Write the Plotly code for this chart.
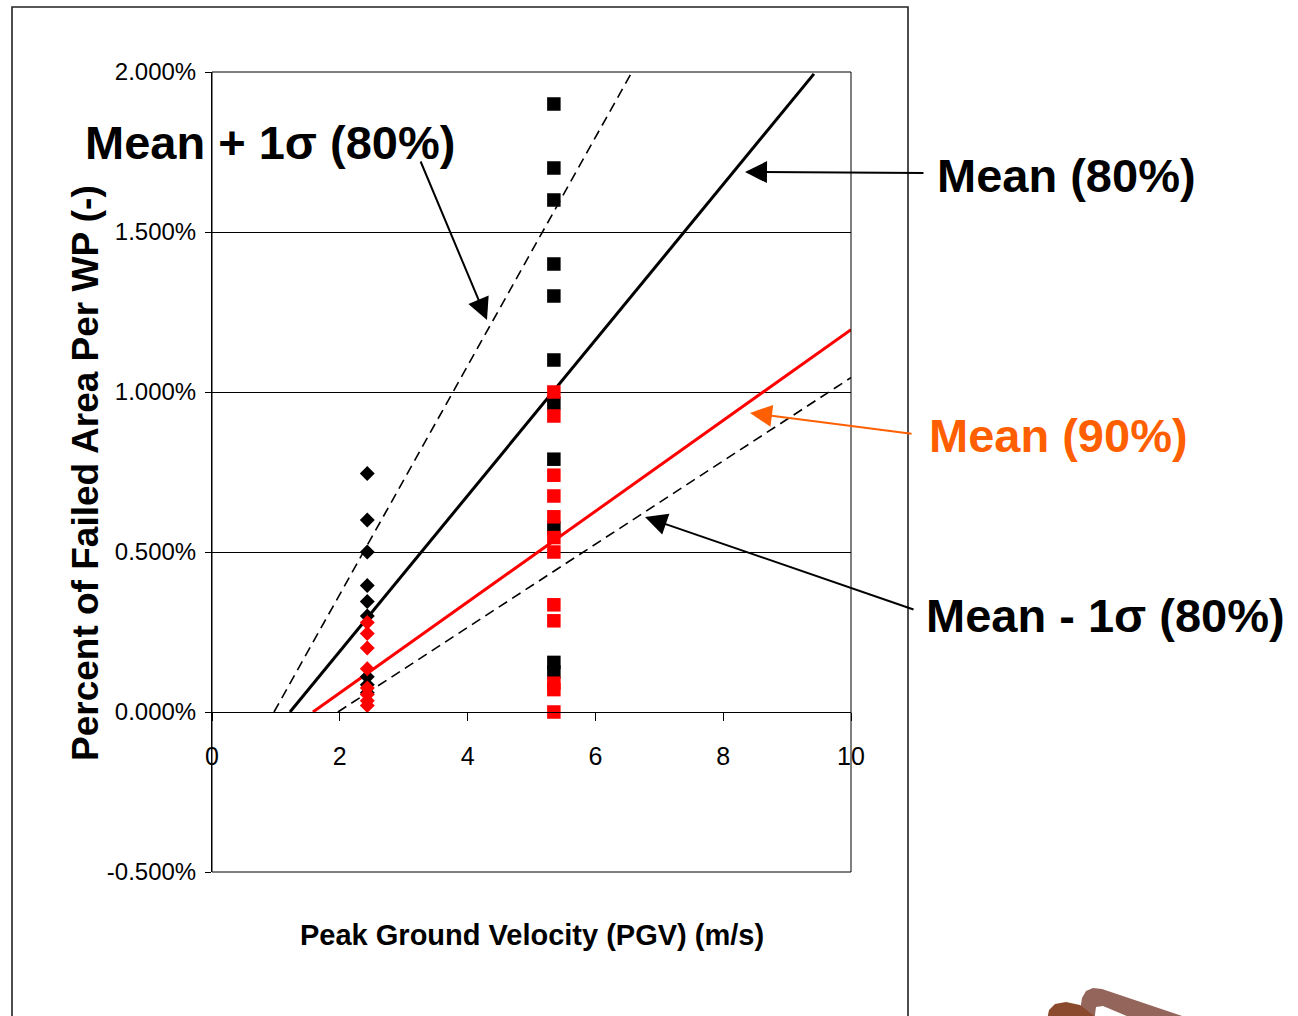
import plotly.graph_objects as go

# ---------------- data ----------------
pgv_low = 2.43   # m/s, first PGV group (diamonds)
pgv_high = 5.35  # m/s, second PGV group (squares)

black_diamond_y = [0.745, 0.60, 0.50, 0.395, 0.345, 0.30, 0.11, 0.085, 0.06]
red_diamond_y = [0.28, 0.245, 0.20, 0.135, 0.075, 0.055, 0.035, 0.02]

black_square_y = [1.90, 1.70, 1.60, 1.40, 1.30, 1.10, 0.965, 0.79, 0.575, 0.155, 0.125]
red_square_y = [1.00, 0.925, 0.74, 0.675, 0.61, 0.545, 0.50, 0.335, 0.285, 0.09, 0.07, 0.0]

mean80_x = [1.22, 9.42]
mean80_y = [0.0, 1.994]
plus1s_x = [0.97, 6.60]
plus1s_y = [0.0, 2.01]
mean90_x = [1.58, 10.0]
mean90_y = [0.0, 1.195]
minus1s_x = [1.97, 10.0]
minus1s_y = [0.0, 1.045]

x_ticks = [0, 2, 4, 6, 8, 10]
x_tick_labels = ["0", "2", "4", "6", "8", "10"]
y_ticks = [-0.5, 0.0, 0.5, 1.0, 1.5, 2.0]
y_tick_labels = ["-0.500%", "0.000%", "0.500%", "1.000%", "1.500%", "2.000%"]

x_range = [0, 10]
y_range = [-0.5, 2.0]

# ---------------- layout geometry ----------------
W, H = 1298, 1016
L, R, T, B = 212, 851, 72, 872   # plot area in pixels


def px(xp):
    return (xp - L) / (R - L)


def py(yp):
    return (B - yp) / (B - T)


def path_from_pixels(pts):
    s = "M " + " L ".join(f"{px(a):.5f},{py(b):.5f}" for a, b in pts)
    return s + " Z"


sans = "Liberation Sans, Arial, sans-serif"
orange = "#FF5F00"
dash = "10px,6px"

fig = go.Figure()

# lines
fig.add_trace(go.Scatter(x=plus1s_x, y=plus1s_y, mode="lines",
                         line=dict(color="black", width=1.6, dash=dash),
                         showlegend=False, hoverinfo="skip"))
fig.add_trace(go.Scatter(x=minus1s_x, y=minus1s_y, mode="lines",
                         line=dict(color="black", width=1.6, dash=dash),
                         showlegend=False, hoverinfo="skip"))
fig.add_trace(go.Scatter(x=mean80_x, y=mean80_y, mode="lines",
                         line=dict(color="black", width=3),
                         showlegend=False, hoverinfo="skip"))
fig.add_trace(go.Scatter(x=mean90_x, y=mean90_y, mode="lines",
                         line=dict(color="#FF0000", width=3),
                         showlegend=False, hoverinfo="skip"))

# markers
fig.add_trace(go.Scatter(x=[pgv_low] * len(black_diamond_y), y=black_diamond_y, mode="markers",
                         marker=dict(symbol="diamond", size=11.5, color="black"),
                         showlegend=False))
fig.add_trace(go.Scatter(x=[pgv_high] * len(black_square_y), y=black_square_y, mode="markers",
                         marker=dict(symbol="square", size=13.5, color="black"),
                         showlegend=False))
fig.add_trace(go.Scatter(x=[pgv_low] * len(red_diamond_y), y=red_diamond_y, mode="markers",
                         marker=dict(symbol="diamond", size=11.5, color="#FF0000"),
                         showlegend=False))
fig.add_trace(go.Scatter(x=[pgv_high] * len(red_square_y), y=red_square_y, mode="markers",
                         marker=dict(symbol="square", size=13.5, color="#FF0000"),
                         showlegend=False))

zero_pos = (0 - y_range[0]) / (y_range[1] - y_range[0])

fig.update_layout(
    width=W, height=H,
    margin=dict(l=L, r=W - R, t=T, b=H - B, pad=0),
    paper_bgcolor="white", plot_bgcolor="white",
    showlegend=False,
    xaxis=dict(range=x_range, tickvals=x_ticks, ticktext=x_tick_labels,
               anchor="free", position=zero_pos,
               showline=True, linecolor="black", linewidth=1,
               ticks="outside", ticklen=8, tickcolor="black", tickwidth=1,
               ticklabelstandoff=14,
               showgrid=False, zeroline=False,
               tickfont=dict(family=sans, size=25, color="black")),
    yaxis=dict(range=y_range, tickvals=y_ticks, ticktext=y_tick_labels,
               showline=True, linecolor="black", linewidth=1,
               ticks="outside", ticklen=6, tickcolor="black", tickwidth=1,
               ticklabelstandoff=4,
               showgrid=True, gridcolor="black", gridwidth=1,
               zeroline=False,
               tickfont=dict(family=sans, size=24, color="black")),
)

shapes = [
    # plot box
    dict(type="rect", xref="paper", yref="paper", x0=0, y0=0, x1=1, y1=1,
         line=dict(color="black", width=1), layer="above"),
    # outer chart frame
    dict(type="rect", xref="paper", yref="paper", x0=px(12), y0=py(1040), x1=px(908), y1=py(7),
         line=dict(color="#222222", width=1.6), layer="above"),
    # decoration bottom right
    dict(type="path", xref="paper", yref="paper", fillcolor="#94655A", line=dict(width=0),
         path=path_from_pixels([(1077, 1030), (1082, 998), (1086, 991), (1093, 988), (1102, 989),
                                (1200, 1022), (1200, 1030), (1160, 1030), (1103, 1006),
                                (1096, 1007), (1093, 1030)])),
    dict(type="path", xref="paper", yref="paper", fillcolor="#8B4A2E", line=dict(width=0),
         path=path_from_pixels([(1045, 1030), (1049, 1010), (1055, 1004), (1066, 1002),
                                (1080, 1005), (1112, 1030)])),
]
fig.update_layout(shapes=shapes)

annotations = [
    # axis titles
    dict(text="Percent of Failed Area Per WP (-)", xref="paper", yref="paper",
         x=px(85), y=py(473), textangle=-90, showarrow=False,
         xanchor="center", yanchor="middle",
         font=dict(family=sans, size=37, color="black", weight="bold")),
    dict(text="Peak Ground Velocity (PGV) (m/s)", xref="paper", yref="paper",
         x=px(532), y=py(935), showarrow=False, xanchor="center", yanchor="middle",
         font=dict(family=sans, size=29, color="black", weight="bold")),
    # labels
    dict(text="Mean + 1σ (80%)", xref="paper", yref="paper", x=px(270), y=py(142),
         showarrow=False, xanchor="center", yanchor="middle",
         font=dict(family=sans, size=47, color="black", weight="bold")),
    dict(text="Mean (80%)", xref="paper", yref="paper", x=px(1066), y=py(175),
         showarrow=False, xanchor="center", yanchor="middle",
         font=dict(family=sans, size=47, color="black", weight="bold")),
    dict(text="Mean (90%)", xref="paper", yref="paper", x=px(1058), y=py(435),
         showarrow=False, xanchor="center", yanchor="middle",
         font=dict(family=sans, size=47, color=orange, weight="bold")),
    dict(text="Mean - 1σ (80%)", xref="paper", yref="paper", x=px(1105), y=py(615),
         showarrow=False, xanchor="center", yanchor="middle",
         font=dict(family=sans, size=47, color="black", weight="bold")),
]

arrows = [
    # (head_px, head_py, tail_px, tail_py, color)
    (487, 320, 420, 160, "black"),
    (745, 172, 925, 173, "black"),
    (750, 413, 913, 434, orange),
    (645, 517, 915, 610, "black"),
]
for hx, hy, tx, ty, col in arrows:
    annotations.append(dict(text="", xref="paper", yref="paper", x=px(hx), y=py(hy),
                            ax=tx - hx, ay=ty - hy, showarrow=True,
                            arrowhead=2, arrowsize=2.2, arrowwidth=2, arrowcolor=col,
                            standoff=0, startstandoff=0))

fig.update_layout(annotations=annotations)

fig.write_html("out.html")
